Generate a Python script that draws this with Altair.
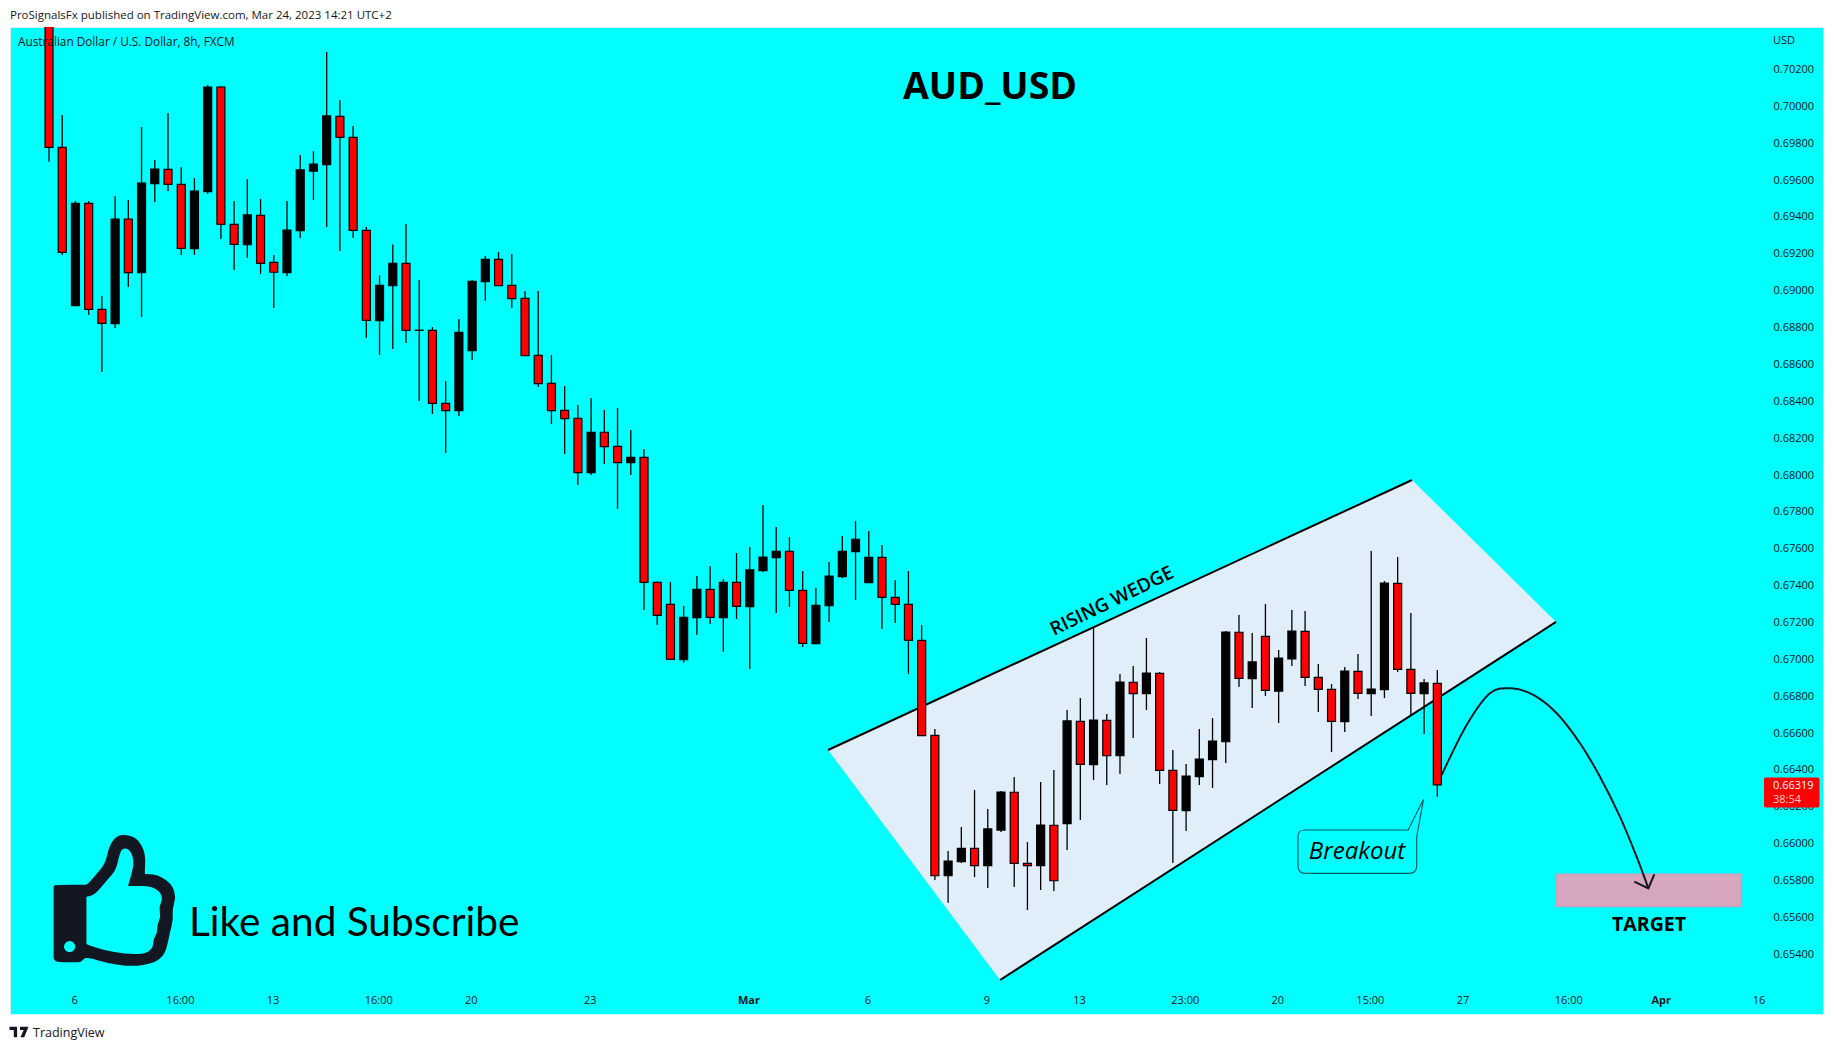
import math
import altair as alt
import pandas as pd

# Candles, prices in 1e-5 units
opens = [70650,69778,68919,69474,68899,68821,69389,69098,69581,69658,69577,69228,69537,70105,69360,69250,69409,69154,69098,69326,
         69649,69684,69946,69832,69327,68837,69027,69148,68785,68785,68389,68349,68675,69049,69170,69029,68959,68649,68497,68351,
         68308,68013,68232,68156,68067,68096,67418,67298,66998,67226,67380,67226,67418,67286,67481,67552,67586,67374,67085,67291,
         67449,67584,67416,67553,67336,67298,67103,66588,65826,65902,65975,65881,66074,66279,65893,65881,66100,66109,66664,66429,
         66669,66477,66875,66814,66924,66398,66179,66364,66456,66553,67147,66895,67125,66828,67002,67152,66902,66837,66662,66935,
         66814,66836,67412,66946,66814,66870]
highs = [70700,69953,69487,69487,68971,69514,69492,69888,69709,69964,69671,69611,70116,70110,69487,69606,69497,69194,69487,69736,
         69758,70295,70034,69893,69346,69083,69251,69362,69058,68803,68510,68846,69058,69188,69210,69199,68998,68998,68651,68483,
         68380,68418,68353,68364,68244,68141,67423,67420,67289,67452,67506,67434,67577,67609,67837,67718,67664,67479,67387,67528,
         67669,67751,67696,67620,67430,67479,67186,66622,65960,66090,66291,66188,66286,66362,66009,66335,66400,66725,66790,67176,
         66704,66921,66964,67116,66931,66508,66432,66622,66682,67154,67241,67143,67300,67051,67268,67262,66975,66866,66959,67029,
         67588,67425,67555,67251,66893,66942]
lows = [69700,69194,68919,68868,68559,68798,69020,68857,69481,69541,69194,69194,69525,69280,69112,69177,69091,68906,69080,69286,
        69492,69345,69215,69286,68745,68651,68684,68716,68402,68331,68119,68320,68624,68944,69027,68906,68647,68478,68277,68114,
        67946,68000,68060,67816,68000,67268,67186,67000,66982,67132,67192,67040,67219,66948,67474,67251,67284,67067,67085,67203,
        67441,67322,67416,67165,67197,66921,66586,65803,65680,65895,65819,65760,66063,65765,65640,65749,65743,65966,66128,66345,
        66318,66378,66573,66725,66324,65895,66069,66318,66302,66438,66850,66736,66801,66655,66964,66855,66714,66497,66606,66785,
        66693,66790,66931,66698,66595,66253]
closes = [69778,69208,69474,68899,68823,69389,69098,69584,69660,69577,69230,69541,70105,69360,69251,69411,69148,69100,69329,69655,
          69687,69948,69832,69327,68839,69029,69148,68785,68786,68389,68349,68774,69051,69170,69027,68957,68647,68496,68349,68306,
          68013,68232,68154,68067,68096,67418,67239,67000,67228,67380,67228,67418,67288,67485,67555,67586,67374,67087,67293,67452,
          67586,67651,67553,67336,67298,67103,66586,65826,65906,65975,65881,66080,66280,65893,65881,66101,65799,66666,66430,66671,
          66477,66877,66814,66926,66398,66181,66367,66459,66557,67148,66897,66986,66832,67007,67154,66902,66837,66664,66937,66816,
          66839,67414,66946,66816,66872,66319]

x_tick_vals = [1.9,9.9,16.9,24.9,31.9,40.9,52.9,61.9,70.9,77.9,85.9,92.9,99.9,106.9,114.9,121.9,129.3]
x_tick_text = ["6","16:00","13","16:00","20","23","Mar","6","9","13","23:00","20","15:00","27","16:00","Apr","16"]
x_tick_bold = [52.9,121.9]
y_tick_vals = [round(0.654 + 0.002*k, 3) for k in range(25)]

wedge_i = [58.92, 71.93, 103.09, 113.98]
wedge_top = [0.665083, 0.669396, 0.679731, 0.67203]
wedge_bot = [0.665083, 0.652605, 0.666998, 0.67203]
upper_i = [58.92, 103.09]
upper_p = [0.665083, 0.679731]
lower_i = [71.93, 113.98]
lower_p = [0.652605, 0.67203]
curve_i = [105.33,107.22,108.98,110.62,112.26,114.03,115.79,117.3,118.81,120.07,120.96]
curve_p = [0.663727,0.66644,0.668159,0.66843,0.668067,0.667074,0.665447,0.663635,0.661465,0.659295,0.65758]
head_i = [119.9,120.96,121.41]
head_p = [0.657938,0.65758,0.65834]
target_i = [113.98,128.02]
target_p = [0.658356,0.656582]

W, H = 1813, 987
xs = alt.Scale(domain=[-2.95, 134.17], nice=False, zero=False, padding=0)
ys = alt.Scale(domain=[0.650761, 0.704306], nice=False, zero=False, padding=0)
INK = "#131722"
SANS = "Open Sans"

df = pd.DataFrame({"i": range(len(opens)),
                   "o": [v/1e5 for v in opens], "h": [v/1e5 for v in highs],
                   "l": [v/1e5 for v in lows], "c": [v/1e5 for v in closes]})
df["col"] = ["#000000" if c >= o else "#ff0000" for o, c in zip(opens, closes)]

label_expr = "%s[indexof(%s, datum.value)]" % (x_tick_text, x_tick_vals)
bold_test = " || ".join(f"datum.value == {v}" for v in x_tick_bold)
x_axis = alt.Axis(values=x_tick_vals, labelExpr=label_expr, ticks=False, domain=False, grid=False,
                  offset=-20, labelPadding=0, labelOverlap=False, labelFlush=False, labelColor=INK,
                  labelFont=SANS, labelFontSize=11,
                  labelFontWeight={"condition": {"test": bold_test, "value": "bold"}, "value": "normal"})
y_axis = alt.Axis(values=y_tick_vals, orient="right", format=".5f", ticks=False, domain=False, grid=False,
                  offset=-50, labelPadding=0, labelOverlap=False, labelFlush=False, labelColor=INK,
                  labelFont=SANS, labelFontSize=11)

def X(f="i"):
    return alt.X(f"{f}:Q", scale=xs, axis=x_axis, title=None)
def Y(f):
    return alt.Y(f"{f}:Q", scale=ys, axis=y_axis, title=None)

def seq(i, p):
    return pd.DataFrame({"i": i, "p": p})

wedge = alt.Chart(pd.DataFrame({"i": wedge_i, "t": wedge_top, "b": wedge_bot})).mark_area(
    color="#E0EEFA", orient="vertical", opacity=1).encode(x=X(), y=Y("t"), y2="b:Q")
upper = alt.Chart(seq(upper_i, upper_p)).mark_line(color="#000000", strokeWidth=2).encode(x=X(), y=Y("p"))
lower = alt.Chart(seq(lower_i, lower_p)).mark_line(color="#000000", strokeWidth=2).encode(x=X(), y=Y("p"))
target = alt.Chart(pd.DataFrame({"a": [target_i[0]], "b": [target_i[1]], "t": [target_p[0]], "u": [target_p[1]]})).mark_rect(
    fill="#D5A6BD", stroke="#C99BC0", strokeWidth=1).encode(x=X("a"), x2="b:Q", y=Y("t"), y2="u:Q")
curve = alt.Chart(seq(curve_i, curve_p)).mark_line(color=INK, strokeWidth=2, interpolate="cardinal").encode(x=X(), y=Y("p"))
head = alt.Chart(seq(head_i, head_p)).mark_line(color=INK, strokeWidth=2).encode(x=X(), y=Y("p"))
wicks = alt.Chart(df).mark_rule(color="#000000", strokeWidth=1.3, clip=True).encode(x=X(), y=Y("h"), y2="l:Q")
bodies = alt.Chart(df).mark_bar(size=8, stroke="#000000", strokeWidth=1.2, clip=True).encode(
    x=X(), y=Y("o"), y2="c:Q", fill=alt.Fill("col:N", scale=None))

def label(text, px, py, size, weight="normal", style="normal", color="#000000", align="left", angle=0, font=SANS):
    return alt.Chart(pd.DataFrame({"s": [text]})).mark_text(
        font=font, fontSize=size, fontWeight=weight, fontStyle=style, color=color, align=align,
        baseline="middle", angle=angle).encode(x=alt.value(px-10), y=alt.value(py-27), text="s:N")

def smooth(pts):
    n = len(pts)
    m = [((pts[k][0]+pts[(k+1) % n][0])/2, (pts[k][1]+pts[(k+1) % n][1])/2) for k in range(n)]
    d = "M%.4f %.4f" % m[-1]
    for k in range(n):
        d += "Q%.4f %.4f %.4f %.4f" % (pts[k][0], pts[k][1], m[k][0], m[k][1])
    return d + "Z"

def sticker(shape, px, py, size, **kw):
    return alt.Chart(pd.DataFrame({"s": [1]})).mark_point(shape=shape, size=size, **kw).encode(
        x=alt.value(px-10), y=alt.value(py-27))

# thumbs-up outline, as a path in the symbol's -1..1 box
outer = [(150,265),(150,258),(158,254),(235,254),(245,254),(270,222),(295,190),(305,140),(325,108),(350,103),(385,115),(408,160),
         (405,222),(407,222),(440,224),(480,250),(493,290),(482,330),(485,360),(475,400),(470,430),(460,465),(430,490),(370,500),
         (300,490),(240,470),(228,485),(218,487),(160,487),(150,478),(150,470)]
inner = [(242,292),(242,290),(265,285),(300,240),(325,210),(335,160),(345,143),(365,150),(377,190),(358,258),(360,258),(430,258),
         (458,290),(445,320),(450,350),(440,375),(440,400),(430,415),(428,445),(405,462),(350,462),(290,450),(242,433),(242,431)]
def norm(p):
    return ((p[0]/2.8-114.5)/65.5, (800+p[1]/3-900.5)/65.5)
hole = [(195+17*math.cos(a*math.pi/4), 440+18*math.sin(a*math.pi/4)) for a in range(8, 0, -1)]
thumb = smooth([norm(p) for p in outer]) + smooth([norm(p) for p in inner[::-1]]) + smooth([norm(p) for p in hole])

# "Breakout" callout
def cn(X_, Y_):
    return "%.4f %.4f" % ((X_-1360.75)/62.75, (Y_-836.3)/62.75)
callout = ("M"+cn(1298,836)+"Q"+cn(1298,830)+" "+cn(1305,830)+"L"+cn(1408.2,830)+"L"+cn(1423.5,799.3)+"L"+cn(1416.7,836.7)
           +"L"+cn(1416.7,866)+"Q"+cn(1416.7,873.3)+" "+cn(1409,873.3)+"L"+cn(1305,873.3)+"Q"+cn(1298,873.3)+" "+cn(1298,866)+"Z")

# TradingView mark
tv = "M-1 -.55H-.2V.55H-.55V-.2H-1ZM.1 -.55H1L.55 .55H.15L.5 -.2H.1Z"

labels = [
    label("ProSignalsFx published on TradingView.com, Mar 24, 2023 14:21 UTC+2", 10, 16, 11.5, color=INK),
    label("Australian Dollar / U.S. Dollar, 8h, FXCM", 18, 42, 11.8, color=INK),
    label("USD", 1773, 41, 11, color=INK),
    label("AUD_USD", 990, 88, 37.5, weight="bold", align="center"),
    label("RISING WEDGE", 1112, 601, 19, weight=600, align="center", angle=334),
    label("Breakout", 1357, 852, 24, style="italic", align="center"),
    label("TARGET", 1649, 925, 19.5, weight="bold", align="center"),
    label("Like and Subscribe", 189, 924, 40.6, font="Lato"),
    label("TradingView", 33, 1033, 12.5, color=INK),
]
price_box = alt.Chart(pd.DataFrame({"s": [1]})).mark_rect(fill="#ff0000", cornerRadius=2).encode(
    x=alt.value(1764-10), x2=alt.value(1819.5-10), y=alt.value(777.5-27), y2=alt.value(807.5-27))
price_txt = [label("0.66319", 1773, 785.5, 11, color="#ffffff"), label("38:54", 1773, 800, 11, color="#ffd0d0")]

shapes = [
    sticker(thumb, 114.5, 900.5, 131**2, filled=True, fill=INK, stroke=None, opacity=1),
    sticker(callout, 1360.75, 836.3, 125.5**2, filled=False, stroke="#0B5A66", strokeWidth=1.2, opacity=1),
    sticker(tv, 19, 1032, 19**2, filled=True, fill=INK, stroke=None, opacity=1),
]

chart = alt.layer(wedge, upper, lower, target, curve, head, wicks, bodies, *shapes, *labels, price_box, *price_txt).properties(
    width=W, height=H,
    autosize=alt.AutoSizeParams(type="none"),
    padding={"left": 2, "top": 19, "right": 3, "bottom": 28},
    background="#ffffff",
).configure_view(fill="#00FFFF", stroke="#CFF3F6", strokeWidth=1)

chart.save("out.html", embed_options={"renderer": "svg", "actions": False})
